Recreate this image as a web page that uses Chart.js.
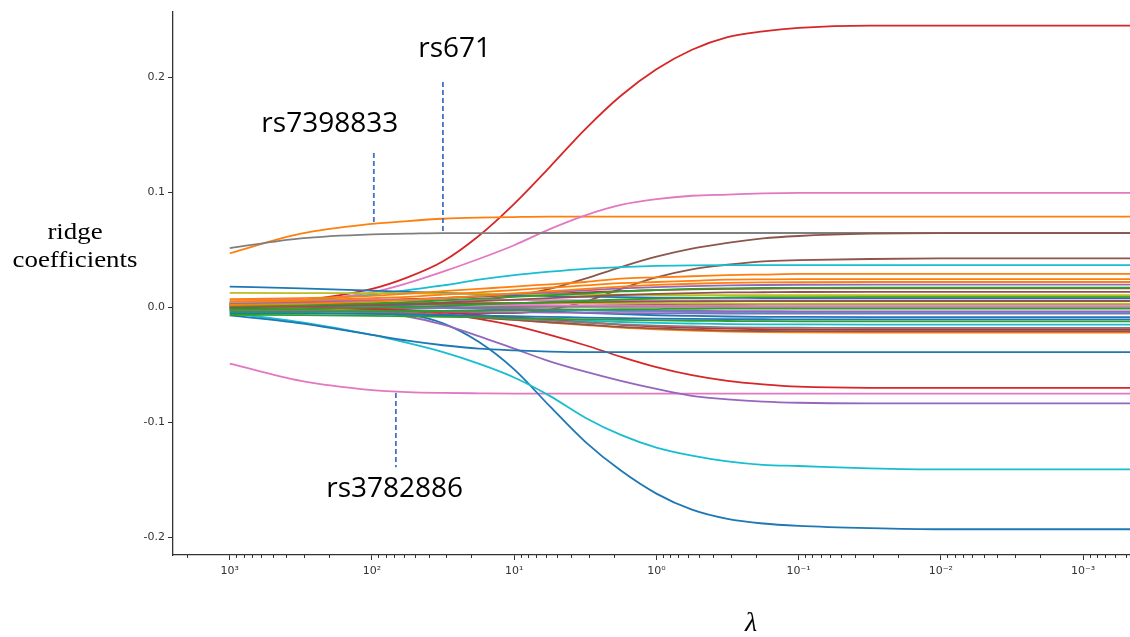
<!DOCTYPE html>
<html><head><meta charset="utf-8">
<script src="https://cdn.jsdelivr.net/npm/chart.js@4.4.1/dist/chart.umd.min.js"></script>
<style>html,body{margin:0;padding:0;background:#fff;}#wrap{width:1130px;height:637px;position:relative;}</style>
</head><body><div id="wrap"><canvas id="c"></canvas></div>
<script>
// ---- data ----
const lambdas = [1000, 316.2, 100, 56.23, 31.62, 17.78, 10, 5.623, 3.162, 1.778, 1, 0.5623, 0.3162, 0.1778, 0.1, 0.03162, 0.01, 0.001, 0.0003162];
const xTickValues = [1000, 100, 10, 1, 0.1, 0.01, 0.001];
const xTickLabels = ['10³', '10²', '10¹', '10⁰', '10⁻¹', '10⁻²', '10⁻³'];
const yTickValues = [-0.2, -0.1, 0, 0.1, 0.2];
const yTickLabels = ['-0.2', '-0.1', '0.0', '0.1', '0.2'];

// highlighted SNP paths
const rs671     = [0.003, 0.006, 0.016, 0.026, 0.040, 0.062, 0.090, 0.122, 0.155, 0.184, 0.207, 0.224, 0.235, 0.240, 0.243, 0.245, 0.245, 0.245, 0.245];
const rs7398833 = [0.047, 0.064, 0.0725, 0.075, 0.077, 0.078, 0.0785, 0.0788, 0.0788, 0.0788, 0.0788, 0.0788, 0.0788, 0.0788, 0.0788, 0.0788, 0.0788, 0.0788, 0.0788];
const rs3782886 = [-0.049, -0.064, -0.072, -0.0738, -0.0745, -0.0748, -0.075, -0.075, -0.075, -0.075, -0.075, -0.075, -0.075, -0.075, -0.075, -0.075, -0.075, -0.075, -0.075];
// other large paths
const pinkUp    = [0.003, 0.006, 0.013, 0.021, 0.031, 0.042, 0.054, 0.068, 0.080, 0.089, 0.094, 0.097, 0.098, 0.099, 0.0995, 0.0995, 0.0995, 0.0995, 0.0995];
const grayTop   = [0.0515, 0.060, 0.0635, 0.064, 0.0645, 0.0645, 0.0646, 0.0646, 0.0646, 0.0646, 0.0646, 0.0646, 0.0646, 0.0646, 0.0646, 0.0646, 0.0646, 0.0646, 0.0646];
const blueDown  = [-0.001, -0.002, -0.003, -0.006, -0.014, -0.030, -0.054, -0.086, -0.117, -0.142, -0.162, -0.176, -0.184, -0.188, -0.190, -0.192, -0.193, -0.193, -0.193];
const cyanDown  = [-0.005, -0.013, -0.024, -0.031, -0.039, -0.049, -0.061, -0.077, -0.096, -0.111, -0.122, -0.129, -0.134, -0.137, -0.138, -0.140, -0.141, -0.141, -0.141];
const purpleDown= [0.0, -0.001, -0.004, -0.008, -0.015, -0.025, -0.036, -0.047, -0.056, -0.064, -0.071, -0.077, -0.080, -0.082, -0.083, -0.0835, -0.0835, -0.0835, -0.0835];
const redDown   = [-0.002, -0.002, -0.003, -0.004, -0.006, -0.010, -0.016, -0.024, -0.033, -0.043, -0.052, -0.059, -0.064, -0.067, -0.069, -0.070, -0.070, -0.070, -0.070];
const blueMid   = [-0.007, -0.014, -0.024, -0.029, -0.033, -0.036, -0.0375, -0.0385, -0.039, -0.039, -0.039, -0.039, -0.039, -0.039, -0.039, -0.039, -0.039, -0.039, -0.039];
const cyanUp    = [0.003, 0.006, 0.011, 0.015, 0.019, 0.024, 0.028, 0.031, 0.0335, 0.035, 0.036, 0.0365, 0.0367, 0.0367, 0.0367, 0.0367, 0.0367, 0.0367, 0.0367];
const brownUp1  = [0.0, 0.001, 0.002, 0.003, 0.004, 0.006, 0.010, 0.016, 0.025, 0.035, 0.044, 0.051, 0.056, 0.060, 0.062, 0.064, 0.0645, 0.0645, 0.0645];
const brownUp2  = [0.0, -0.001, -0.002, -0.003, -0.004, -0.005, -0.005, -0.002, 0.005, 0.016, 0.026, 0.033, 0.037, 0.040, 0.041, 0.042, 0.0425, 0.0425, 0.0425];
// small coefficients (band near zero)
const snpA = [0.007,0.008,0.010,0.012,0.014,0.016,0.018,0.020,0.022,0.025,0.026,0.027,0.028,0.0285,0.029,0.029,0.029,0.029,0.029];
const snpB = [0.005,0.006,0.008,0.009,0.011,0.013,0.015,0.017,0.019,0.021,0.022,0.023,0.024,0.0243,0.0245,0.0245,0.0245,0.0245,0.0245];
const snpC = [0.002,0.003,0.005,0.0065,0.008,0.010,0.012,0.014,0.016,0.018,0.0195,0.0205,0.0212,0.0216,0.0218,0.022,0.022,0.022,0.022];
const snpD = [0.003,0.004,0.0055,0.0067,0.008,0.0097,0.0114,0.013,0.0148,0.0164,0.0176,0.0184,0.019,0.0194,0.0196,0.0198,0.0198,0.0198,0.0198];
const snpE = [0.001,0.002,0.0035,0.0045,0.006,0.0075,0.009,0.0105,0.012,0.0138,0.015,0.016,0.0165,0.0168,0.0169,0.017,0.017,0.017,0.017];
const snpF = [0,0.0007,0.002,0.003,0.004,0.0054,0.0067,0.008,0.0094,0.0107,0.0117,0.0123,0.0129,0.0131,0.0133,0.0134,0.0134,0.0134,0.0134];
const snpG = [0.0125,0.0124,0.0122,0.0121,0.012,0.0118,0.0115,0.0113,0.0111,0.0109,0.0107,0.0106,0.0106,0.0105,0.0105,0.0105,0.0105,0.0105,0.0105];
const snpH = [-0.002,-0.0015,-0.0003,0.0004,0.0013,0.0024,0.0035,0.0046,0.0057,0.0068,0.0076,0.0081,0.0086,0.0088,0.0089,0.009,0.009,0.009,0.009];
const snpI = [0.002,0.0022,0.0025,0.0028,0.003,0.0034,0.0037,0.0041,0.0045,0.0048,0.005,0.0052,0.0054,0.0055,0.0055,0.0055,0.0055,0.0055,0.0055];
const snpJ = [0.0045,0.0044,0.0043,0.0042,0.0041,0.004,0.0038,0.0037,0.0036,0.0035,0.0034,0.0033,0.0033,0.0032,0.0032,0.0032,0.0032,0.0032,0.0032];
const snpK = [0.003,0.0029,0.0027,0.0026,0.0024,0.0022,0.002,0.0018,0.0016,0.0014,0.0013,0.0012,0.0012,0.0011,0.0011,0.0011,0.0011,0.0011,0.0011];
const snpL = [-0.004,-0.0039,-0.0036,-0.0034,-0.0031,-0.0028,-0.0025,-0.0022,-0.002,-0.0017,-0.0015,-0.0013,-0.0012,-0.0011,-0.0011,-0.0011,-0.0011,-0.0011,-0.0011];
const snpM = [0.001,0.0008,0.0003,0,-0.0004,-0.0008,-0.0012,-0.0017,-0.0022,-0.0026,-0.0029,-0.0031,-0.0033,-0.0034,-0.0035,-0.0035,-0.0035,-0.0035,-0.0035];
const snpN = [-0.003,-0.0031,-0.0034,-0.0036,-0.0038,-0.004,-0.0043,-0.0045,-0.0048,-0.005,-0.0052,-0.0053,-0.0054,-0.0055,-0.0055,-0.0055,-0.0055,-0.0055,-0.0055];
const snpO = [0.004,0.0034,0.0021,0.0013,0.0003,-0.001,-0.0023,-0.0035,-0.0048,-0.006,-0.0069,-0.0075,-0.008,-0.0083,-0.0084,-0.0085,-0.0085,-0.0085,-0.0085];
const snpP = [-0.005,-0.0053,-0.0058,-0.0062,-0.0067,-0.0072,-0.0078,-0.0083,-0.0089,-0.0094,-0.0098,-0.0101,-0.0103,-0.0104,-0.0105,-0.0105,-0.0105,-0.0105,-0.0105];
const snpQ = [-0.0065,-0.0068,-0.0074,-0.0078,-0.0082,-0.0088,-0.0094,-0.0099,-0.0105,-0.011,-0.0114,-0.0117,-0.0119,-0.0121,-0.0122,-0.0122,-0.0122,-0.0122,-0.0122];
const snpR = [-0.002,-0.0028,-0.0044,-0.0055,-0.0068,-0.0084,-0.01,-0.0116,-0.0132,-0.0148,-0.0159,-0.0167,-0.0174,-0.0177,-0.0178,-0.018,-0.018,-0.018,-0.018];
const snpS = [-0.001,-0.002,-0.004,-0.0054,-0.007,-0.009,-0.011,-0.013,-0.015,-0.017,-0.0184,-0.0194,-0.0202,-0.0206,-0.0208,-0.021,-0.021,-0.021,-0.021];
const snpT = [0,-0.0011,-0.0033,-0.0048,-0.0066,-0.0088,-0.011,-0.0132,-0.0154,-0.0176,-0.0191,-0.0202,-0.0211,-0.0216,-0.0218,-0.022,-0.022,-0.022,-0.022];
const snpU = [0.002,0.0009,-0.0012,-0.0027,-0.0045,-0.0066,-0.0088,-0.011,-0.0131,-0.0152,-0.0167,-0.0178,-0.0186,-0.0191,-0.0193,-0.0195,-0.0195,-0.0195,-0.0195];
const snpV = [-0.004,-0.0046,-0.0057,-0.0064,-0.0073,-0.0084,-0.0095,-0.0106,-0.0117,-0.0128,-0.0136,-0.0141,-0.0146,-0.0148,-0.0149,-0.015,-0.015,-0.015,-0.015];
const snpW = [0.018,0.0165,0.0145,0.0135,0.0125,0.0115,0.0105,0.0098,0.0092,0.0088,0.0085,0.0083,0.0082,0.0081,0.008,0.008,0.008,0.008,0.008];
const snpX = [0.0065,0.0065,0.0064,0.0064,0.0063,0.0063,0.0062,0.0062,0.0061,0.0061,0.006,0.006,0.006,0.006,0.006,0.006,0.006,0.006,0.006];
const snpY = [0.0,0.0,0.0001,0.0001,0.0002,0.0002,0.0003,0.0003,0.0004,0.0004,0.0005,0.0005,0.0005,0.0005,0.0005,0.0005,0.0005,0.0005,0.0005];
const snpZ = [0.0045,0.0051,0.0063,0.007,0.0081,0.0093,0.0105,0.0117,0.0129,0.0141,0.015,0.0156,0.016,0.0163,0.0164,0.0165,0.0165,0.0165,0.0165];
const snpAA = [0.001,0.0007,0.0002,-0.0002,-0.0007,-0.0012,-0.0018,-0.0023,-0.0029,-0.0034,-0.0038,-0.0041,-0.0043,-0.0044,-0.0045,-0.0045,-0.0045,-0.0045,-0.0045];
const snpAB = [-0.0025,-0.0022,-0.0017,-0.0013,-0.0008,-0.0003,0.0003,0.0008,0.0014,0.0019,0.0023,0.0026,0.0028,0.0029,0.003,0.003,0.003,0.003,0.003];

// annotation data (label, λ of marker, coefficient range of marker, label anchor)
const annoLabels   = ['rs671', 'rs7398833', 'rs3782886'];
const annoLambda   = [31.7, 97, 67.9];
const annoTop      = [0.196, 0.1342, -0.0745];
const annoBottom   = [0.0655, 0.0733, -0.139];
const annoTextLam  = [26.2, 198, 69.2];
const annoTextVal  = [0.2177, 0.1524, -0.165];

// ---- styling ----
const C = {blue:'#1f77b4', orange:'#ff7f0e', green:'#2ca02c', red:'#d62728', purple:'#9467bd',
           brown:'#8c564b', pink:'#e377c2', gray:'#7f7f7f', olive:'#bcbd22', cyan:'#17becf'};
const seriesList = [
  [snpA, C.orange],[snpB, C.orange],[snpC, C.orange],[snpD, C.purple],[snpE, C.green],[snpF, C.brown],
  [snpG, C.olive],[snpH, C.green],[snpI, C.brown],[snpJ, C.olive],[snpK, C.pink],[snpL, C.green],
  [snpM, C.purple],[snpN, C.purple],[snpO, C.blue],[snpP, C.blue],[snpQ, C.green],[snpR, C.gray],
  [snpS, C.brown],[snpT, C.orange],[snpU, C.red],[snpV, C.cyan],[snpW, C.blue],[snpX, C.pink],
  [snpY, C.gray],[snpZ, C.red],[snpAA, C.cyan],[snpAB, C.brown],
  [blueMid, C.blue],[cyanUp, C.cyan],[brownUp2, C.brown],[brownUp1, C.brown],[redDown, C.red],
  [purpleDown, C.purple],[cyanDown, C.cyan],[blueDown, C.blue],[grayTop, C.gray],[pinkUp, C.pink],
  [rs3782886, C.pink],[rs7398833, C.orange],[rs671, C.red]
];
const datasets = seriesList.map(([vals, col]) => ({
  data: lambdas.map((l, i) => ({x: l, y: vals[i]})),
  borderColor: col, borderWidth: 1.8, pointRadius: 0, fill: false,
  cubicInterpolationMode: 'monotone'
}));

const X_MIN = Math.pow(10, -3.33), X_MAX = Math.pow(10, 3.399);
const Y_MIN = -0.2154, Y_MAX = 0.2568;

const overlay = {
  id: 'overlay',
  afterDraw(chart) {
    const {ctx, chartArea, scales: {x, y}} = chart;
    ctx.save();
    // minor log ticks
    ctx.strokeStyle = '#333'; ctx.lineWidth = 1;
    for (let e = -4; e <= 3; e++) {
      for (let m = 2; m <= 9; m++) {
        const v = m * Math.pow(10, e);
        if (v < X_MIN || v > X_MAX) continue;
        const px = Math.round(x.getPixelForValue(v)) + 0.5;
        ctx.beginPath(); ctx.moveTo(px, chartArea.bottom); ctx.lineTo(px, chartArea.bottom + 3); ctx.stroke();
      }
    }
    // dashed markers and labels
    ctx.strokeStyle = '#4472c4'; ctx.lineWidth = 1.8; ctx.setLineDash([5, 3]);
    annoLabels.forEach((lab, i) => {
      const px = x.getPixelForValue(annoLambda[i]);
      ctx.beginPath(); ctx.moveTo(px, y.getPixelForValue(annoTop[i])); ctx.lineTo(px, y.getPixelForValue(annoBottom[i])); ctx.stroke();
    });
    ctx.setLineDash([]);
    ctx.fillStyle = '#000'; ctx.textAlign = 'center'; ctx.textBaseline = 'alphabetic';
    ctx.font = '28px "Open Sans"';
    annoLabels.forEach((lab, i) => {
      ctx.fillText(lab, x.getPixelForValue(annoTextLam[i]), y.getPixelForValue(annoTextVal[i]));
    });
    // y title (horizontal, two lines)
    ctx.font = '24px "Liberation Serif"';
    ctx.save(); ctx.translate(75, 0); ctx.scale(1.12, 1);
    ctx.fillText('ridge', 0, 239);
    ctx.fillText('coefficients', 0, 267);
    ctx.restore();
    // x title
    ctx.font = 'italic 28px "Liberation Serif"';
    ctx.fillText('λ', 751, 631);
    ctx.restore();
  }
};

new Chart(document.getElementById('c'), {
  type: 'line',
  data: {datasets},
  options: {
    responsive: true, maintainAspectRatio: false, animation: false,
    layout: {padding: {top: 12, right: 0, bottom: 0, left: 0}},
    plugins: {legend: {display: false}, tooltip: {enabled: false}},
    scales: {
      x: {
        type: 'logarithmic', reverse: true, min: X_MIN, max: X_MAX,
        afterBuildTicks: s => { s.ticks = xTickValues.map(v => ({value: v})); },
        afterFit: s => { s.height = 82; },
        ticks: {autoSkip: false, maxRotation: 0, padding: 5, color: '#333',
                font: {family: 'DejaVu Sans', size: 11},
                callback: v => xTickLabels[xTickValues.indexOf(v)] ?? ''},
        grid: {display: true, drawOnChartArea: false, drawTicks: true, tickLength: 5, color: '#333', tickWidth: 1},
        border: {display: true, color: '#333', width: 1.3}
      },
      y: {
        type: 'linear', min: Y_MIN, max: Y_MAX,
        afterBuildTicks: s => { s.ticks = yTickValues.map(v => ({value: v})); },
        afterFit: s => { s.width = 173; },
        ticks: {autoSkip: false, padding: 3, color: '#333',
                font: {family: 'DejaVu Sans', size: 11},
                callback: v => yTickLabels[yTickValues.indexOf(v)] ?? ''},
        grid: {display: true, drawOnChartArea: false, drawTicks: true, tickLength: 5, color: '#333', tickWidth: 1},
        border: {display: true, color: '#333', width: 1.3}
      }
    }
  },
  plugins: [overlay]
});
</script>
</body></html>
